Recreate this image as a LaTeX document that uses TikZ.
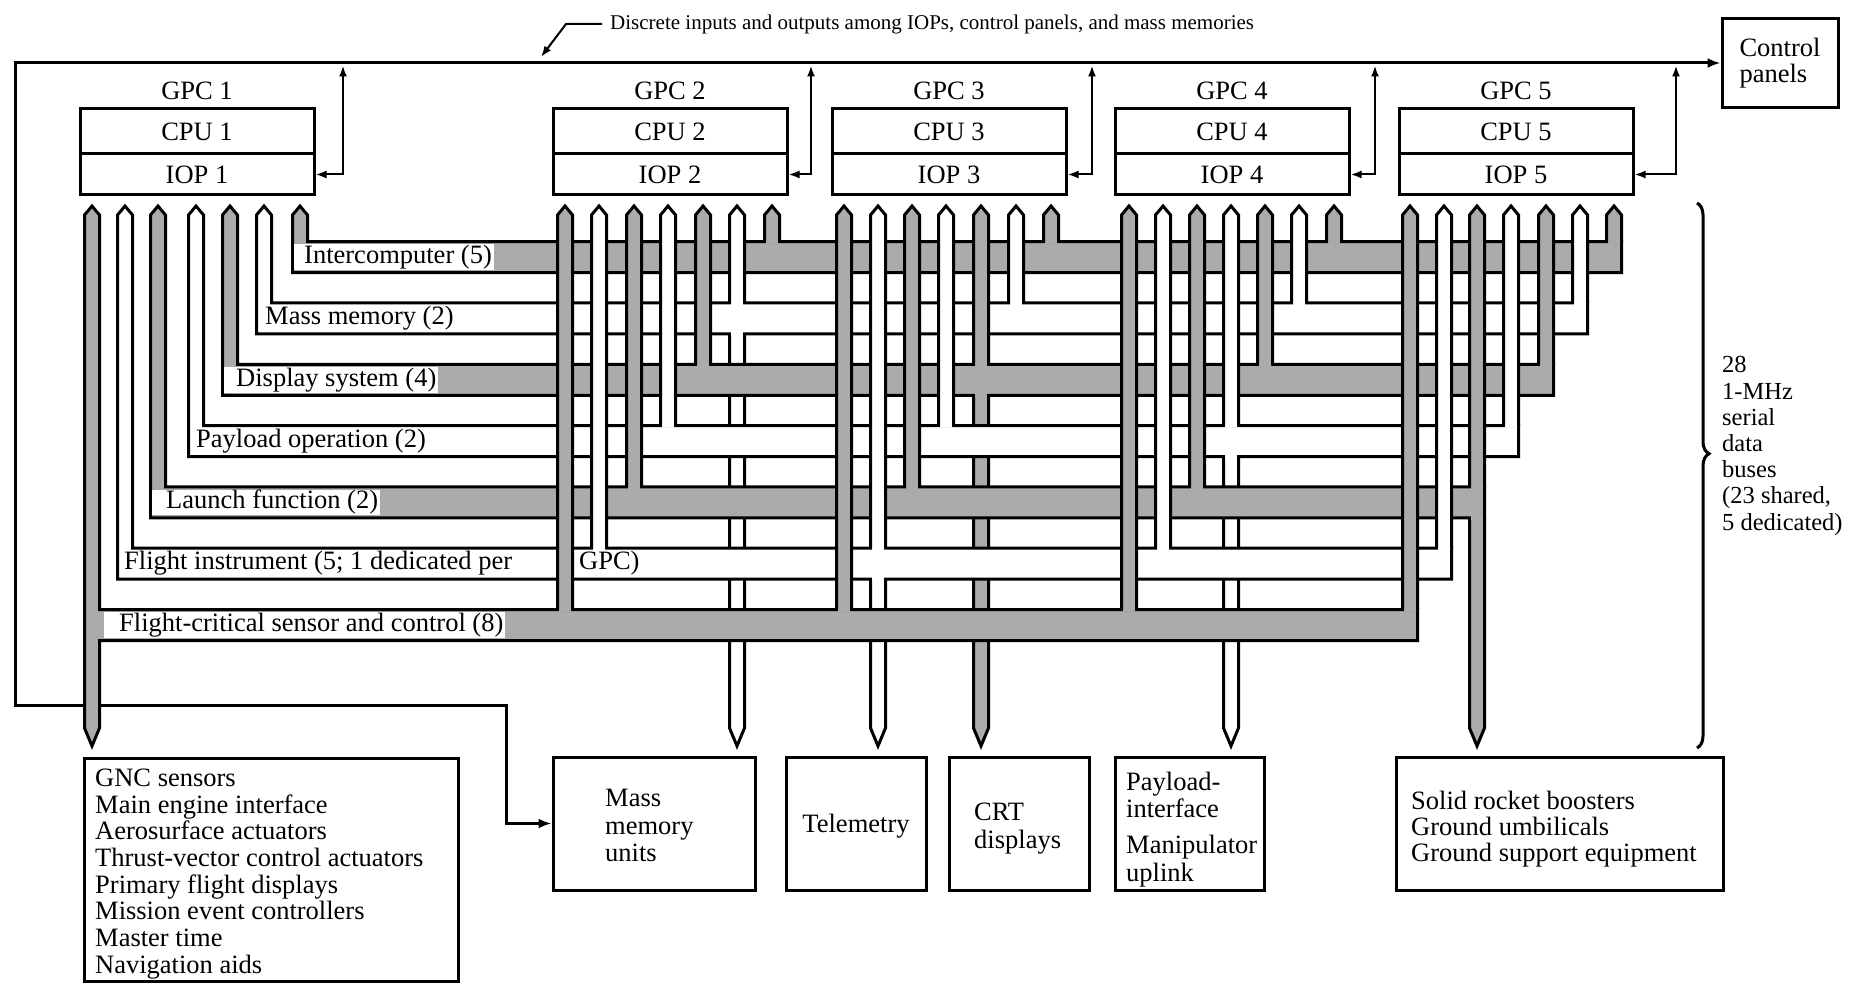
\documentclass[tikz,border=0pt]{standalone}
\usepackage{fontspec}
\setmainfont{Liberation Serif}
\usetikzlibrary{arrows.meta,decorations.pathreplacing}
\definecolor{busgray}{gray}{0.67}
\newcommand\fsMain{\fontsize{26.5}{26.7}\selectfont}
\newcommand\fsTop{\fontsize{21}{22}\selectfont}
\newcommand\fsBrace{\fontsize{24.5}{26.2}\selectfont}
\begin{document}
\begin{tikzpicture}[x=1pt,y=-1pt,
  ln/.style={line width=3pt,line join=miter},
  wire/.style={line width=3pt},
  thinwire/.style={line width=2pt},
  box/.style={draw,line width=3pt,inner sep=0pt,font=\fsMain},
  txt/.style={font=\fsMain,inner sep=0pt,align=left},
  buslabel/.style={font=\fsMain,fill=white,inner xsep=2pt,inner ysep=1pt,anchor=west,text height=18pt,text depth=5.5pt},
  >={Latex[length=13pt,width=10pt]}
]
\useasboundingbox (0,0) rectangle (1856,984);

% ---------- GPC boxes ----------
\foreach \k/\L in {1/80,2/553,3/832,4/1115,5/1399}{
  \node[box,minimum width=234pt,minimum height=45pt] (cpu\k) at (\L+117,131.5) {CPU \k};
  \node[box,minimum width=234pt,minimum height=41pt] (iop\k) at (\L+117,174.5) {IOP \k};
  \node[font=\fsMain,inner sep=0pt] (gpc\k) at (\L+117,91) {GPC \k};
}

% ---------- boxes ----------
\node[box,minimum width=116pt,minimum height=89pt,align=left] (cp) at (1780,63) {Control\\panels};
\node[box,minimum width=374pt,minimum height=223pt] (gnc) at (271,869.5) {};
\node[box,minimum width=202pt,minimum height=133pt] (mmu) at (654,823.5) {};
\node[box,minimum width=140pt,minimum height=133pt] (tel) at (856,823.5) {};
\node[box,minimum width=140pt,minimum height=133pt] (crt) at (1019,823.5) {};
\node[box,minimum width=149pt,minimum height=133pt] (pay) at (1189.5,823.5) {};
\node[box,minimum width=327pt,minimum height=133pt] (srb) at (1559.5,823.5) {};

\node[txt,anchor=west] (gnct) at (95,874) {GNC sensors\\Main engine interface\\Aerosurface actuators\\Thrust-vector control actuators\\Primary flight displays\\Mission event controllers\\Master time\\Navigation aids};
\node[txt,anchor=west,font=\fontsize{26.5}{27.5}\selectfont] (mmut) at (605,825.5) {Mass\\memory\\units};
\node[txt] (telt) at (856,826) {Telemetry};
\node[txt,anchor=west,font=\fontsize{26.5}{28}\selectfont] (crtt) at (974,829) {CRT\\displays};
\node[txt,anchor=west] (payt1) at (1126,795) {Payload-\\interface};
\node[txt,anchor=west,font=\fontsize{26.5}{28}\selectfont] (payt2) at (1126,861) {Manipulator\\uplink};
\node[txt,anchor=west,font=\fontsize{26.5}{26}\selectfont] (srbt) at (1411,829.5) {Solid rocket boosters\\Ground umbilicals\\Ground support equipment};

% ---------- discrete I/O line ----------
\draw[wire,<->] (mmu.west) -| (506,705) -| (15,63) -- (cp.west);

% ---------- stubs below buses (under lower buses) ----------
\foreach \x/\bj in {737/5,878/1,981/4,1231/3,1477/2}{
  \pgfmathsetmacro\yB{608-61.3*\bj+32.5}
  \ifodd\bj\relax\def\fc{white}\else\def\fc{busgray}\fi
  \fill[\fc] (\x-7.5,\yB) -- (\x-7.5,728) -- (\x,746) -- (\x+7.5,728) -- (\x+7.5,\yB) -- cycle;
  \draw[ln] (\x-7.5,\yB) -- (\x-7.5,728) -- (\x,746) -- (\x+7.5,728) -- (\x+7.5,\yB);
}

% ---------- buses ----------
\foreach \bj/\xa/\xe in {1/125/1451.5,2/158/1484.5,3/196/1518.5,4/230/1553.5,5/264/1587.5,6/300/1621.5}{
  \pgfmathsetmacro\yT{608-61.3*\bj+1.5}
  \pgfmathsetmacro\yB{608-61.3*\bj+32.5}
  \ifodd\bj\relax\def\fc{white}\else\def\fc{busgray}\fi
  \filldraw[ln,fill=\fc] (\xa-7.5,215) -- (\xa,206) -- (\xa+7.5,215) -- (\xa+7.5,\yT) -- (\xe,\yT) -- (\xe,\yB) -- (\xa-7.5,\yB) -- cycle;
}
\filldraw[ln,fill=busgray] (84.5,215) -- (92,206) -- (99.5,215) -- (99.5,609.5) -- (1417.5,609.5) -- (1417.5,640.5) -- (99.5,640.5) -- (99.5,728) -- (92,746) -- (84.5,728) -- cycle;

% ---------- pins of GPC 2-5 ----------
\foreach \x [count=\cnt from 0] in {565,599,634,668,703,737,772,844,878,912,946,981,1016,1051,1129,1163,1197,1231,1265,1299,1334,1410,1444,1477,1511,1546,1580,1614}{
  \pgfmathtruncatemacro\jj{mod(\cnt,7)}
  \pgfmathsetmacro\yT{608-61.3*\jj+1.5}
  \ifodd\jj\relax\def\fc{white}\else\def\fc{busgray}\fi
  \fill[\fc] (\x-6,\yT+2) -- (\x-6,215) -- (\x,208.5) -- (\x+6,215) -- (\x+6,\yT+2) -- cycle;
  \draw[ln] (\x-7.5,\yT) -- (\x-7.5,215) -- (\x,206) -- (\x+7.5,215) -- (\x+7.5,\yT);
}
% junctions where a pin continues below its bus
\foreach \x/\bj in {737/5,878/1,981/4,1231/3,1477/2}{
  \pgfmathsetmacro\yM{608-61.3*\bj+17}
  \pgfmathsetmacro\yB{608-61.3*\bj+32.5}
  \ifodd\bj\relax\def\fc{white}\else\def\fc{busgray}\fi
  \fill[\fc] (\x-6,\yM) rectangle (\x+6,\yB+2);
}

% ---------- bus labels ----------
\node[buslabel] (lIC) at (294,257.2) {\hspace*{8pt}Intercomputer (5)};
\node[buslabel] (lMM) at (263,318.5) {Mass memory (2)};
\node[buslabel] (lDS) at (224,379.8) {\hspace*{10pt}Display system (4)};
\node[buslabel] (lPO) at (194,441.1) {Payload operation (2)};
\node[buslabel] (lLF) at (152,502.4) {\hspace*{12pt}Launch function (2)};
\node[buslabel] (lFI) at (122,563.7) {Flight instrument (5; 1 dedicated per};
\node[buslabel] (lFIb) at (577,563.7) {GPC)};
\node[buslabel] (lFC) at (104,625) {\hspace*{13pt}Flight-critical sensor and control (8)};

% ---------- IOP discrete arrows ----------
\foreach \k/\xa in {1/343,2/811,3/1092,4/1375,5/1676}{
  \draw[thinwire,{Latex[length=11pt,width=8pt]}-{Latex[length=11pt,width=8pt]}] (iop\k.east) -| (\xa,65.5);
}

% ---------- annotation ----------
\node[font=\fsTop,inner sep=0pt,anchor=west] (ann) at (610,24) {Discrete inputs and outputs among IOPs, control panels, and mass memories};
\draw[thinwire,-{Latex[length=11pt,width=8pt]}] ([xshift=-8pt]ann.west) -- (566,24) -- (541,57);

% ---------- brace ----------
\draw[line width=3pt,decorate,decoration={brace,amplitude=12pt,aspect=0.46}] (1697,203) -- (1697,748);
\node[font=\fsBrace,align=left,inner sep=0pt,anchor=west] (bt) at (1722,446) {28\\1-MHz\\serial\\data\\buses\\(23 shared,\\5 dedicated)};
\end{tikzpicture}
\end{document}
